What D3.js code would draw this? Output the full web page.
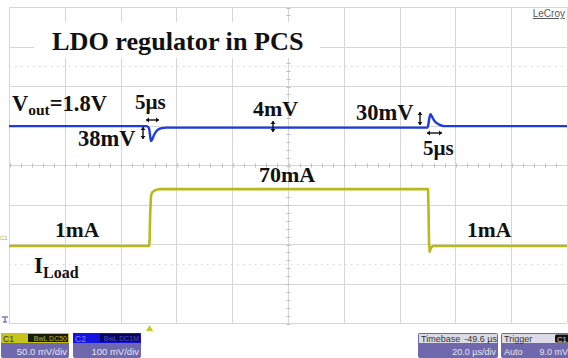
<!DOCTYPE html>
<html>
<head>
<meta charset="utf-8">
<script src="https://cdn.jsdelivr.net/npm/d3@7/dist/d3.min.js"></script>
<style>
  html, body { margin: 0; padding: 0; background: #fff; }
  svg { display: block; }
  .ann { font-family: "Liberation Serif", "Times New Roman", serif; font-weight: bold; fill: #111; }
  .ui { font-family: "Liberation Sans", "DejaVu Sans", Arial, sans-serif; }
</style>
</head>
<body>
<svg id="scope" width="568" height="358"></svg>
<script>
// Time axis (µs, trigger at 0) and screen layout: 10 x 8 divisions
const timeWindowUs = [-50.4, 149.6];
const divisionsX = 10;
const divisionsY = 8;

// C2: regulator output, deviation from 1.8 V in mV
const voutTimeUs = [-50.4, -1.0, -0.2, 0.2, 0.5, 0.9, 1.5, 2.3, 3.2, 4.5, 6.0, 99.6, 99.9, 100.3, 100.7, 101.2, 101.9, 102.8, 104.0, 105.5, 149.6];
const voutDevMv  = [0, 0, -6, -26, -38, -34, -24, -14, -8, -5, -4, -4, 4, 22, 30, 24, 15, 8, 3, 0, 0];

// C1: load current in mA
const loadTimeUs = [-50.4, -0.2, 0.0, 0.2, 0.5, 0.9, 1.6, 2.6, 4.0, 99.8, 100.0, 100.15, 100.4, 100.9, 101.6, 149.6];
const loadMa     = [1, 1, 8, 40, 62, 66, 68, 69.5, 70, 70, 40, 4, -6, -1, 1, 1];

// channel settings
const c1MaPerDiv = 48, c1ZeroDiv = -2.07;
const c2MvPerDiv = 100, c2ZeroDiv = 0.985;

// annotation labels
const titleText = "LDO regulator in PCS";
const dropLabels = ["38mV", "4mV", "30mV"];
const timeLabels = ["5µs", "5µs"];
const currentLabels = ["1mA", "70mA", "1mA"];

// status bar labels
const chanBoxes = [
  { name: "C1", tag: "BwL DC50", scale: "50.0 mV/div", head: "#c4c41c", tagFill: "#1a1a08", tagText: "#b8b840" },
  { name: "C2", tag: "BwL DC1M", scale: "100 mV/div", head: "#1414e0", tagFill: "#07075a", tagText: "#5050d0" }
];
const timebaseLabels = ["Timebase", "-49.6 µs", "20.0 µs/div"];
const triggerLabels = ["Trigger", "C1", "Auto", "9.0 mV"];

const svg = d3.select("#scope");
const plot = { left: 9, right: 567, top: 7, bottom: 323 };

const x = d3.scaleLinear().domain(timeWindowUs).range([plot.left, plot.right]);
const yDiv = d3.scaleLinear().domain([-divisionsY / 2, divisionsY / 2]).range([plot.bottom, plot.top]);
const yC1 = d3.scaleLinear().domain([0, c1MaPerDiv]).range([yDiv(c1ZeroDiv), yDiv(c1ZeroDiv + 1)]);
const yC2 = d3.scaleLinear().domain([0, c2MvPerDiv]).range([yDiv(c2ZeroDiv), yDiv(c2ZeroDiv + 1)]);
const divW = (plot.right - plot.left) / divisionsX;

// ---- graticule ----
const grid = svg.append("g").attr("stroke", "#d6d6d6").attr("stroke-width", 1).attr("fill", "none");
d3.range(divisionsX + 1).forEach(i => {
  const gx = Math.round(plot.left + i * divW) + 0.5;
  grid.append("line").attr("x1", gx).attr("x2", gx).attr("y1", plot.top).attr("y2", plot.bottom);
});
d3.range(-divisionsY / 2, divisionsY / 2 + 1).forEach(d => {
  const gy = Math.round(yDiv(d)) + 0.5;
  grid.append("line").attr("x1", plot.left).attr("x2", plot.right).attr("y1", gy).attr("y2", gy);
});
// dotted half-division lines
[2.5, -2.5].forEach(d => {
  const gy = Math.round(yDiv(d)) + 0.5;
  grid.append("line").attr("x1", plot.left).attr("x2", plot.right).attr("y1", gy).attr("y2", gy)
    .attr("stroke-dasharray", "1.5,4.5");
});
// minor ticks on the centre axes
const cx = Math.round(x((timeWindowUs[0] + timeWindowUs[1]) / 2)) + 0.5;
const cy = Math.round(yDiv(0)) + 0.5;
d3.range(-divisionsX / 2 * 5, divisionsX / 2 * 5 + 1).forEach(k => {
  const tx = Math.round(cx + k * divW / 5) + 0.5;
  grid.append("line").attr("x1", tx).attr("x2", tx).attr("y1", cy - 2).attr("y2", cy + 2).attr("stroke", "#bdbdbd");
});
d3.range(-divisionsY / 2 * 5, divisionsY / 2 * 5 + 1).forEach(k => {
  const ty = Math.round(cy + k * (yDiv(0) - yDiv(1)) / 5) + 0.5;
  grid.append("line").attr("x1", cx - 2).attr("x2", cx + 2).attr("y1", ty).attr("y2", ty).attr("stroke", "#bdbdbd");
});

// ---- traces ----
const c1Line = d3.line().x((d, i) => x(loadTimeUs[i])).y(d => yC1(d));
const c2Line = d3.line().x((d, i) => x(voutTimeUs[i])).y(d => yC2(d)).curve(d3.curveMonotoneX);

svg.append("path").datum(loadMa).attr("d", c1Line)
  .attr("fill", "none").attr("stroke", "#b9b91e").attr("stroke-width", 2.6).attr("stroke-linejoin", "round");
svg.append("path").datum(voutDevMv).attr("d", c2Line)
  .attr("fill", "none").attr("stroke", "#1e3ae2").attr("stroke-width", 2.4).attr("stroke-linejoin", "round");

// ---- annotations ----
svg.append("rect").attr("x", 34).attr("y", 22).attr("width", 286).attr("height", 36).attr("fill", "#fff");
svg.append("text").attr("class", "ann").attr("x", 52).attr("y", 50).attr("font-size", 26.2).text(titleText);

const vout = svg.append("text").attr("class", "ann").attr("x", 12).attr("y", 111).attr("font-size", 22.5);
vout.append("tspan").text("V");
vout.append("tspan").attr("font-size", 15.5).attr("dy", 4).text("out");
vout.append("tspan").attr("dy", -4).text("=1.8V");

svg.append("text").attr("class", "ann").attr("x", 135).attr("y", 109).attr("font-size", 21).text(timeLabels[0]);
svg.append("text").attr("class", "ann").attr("x", 78).attr("y", 146).attr("font-size", 22.5).text(dropLabels[0]);
svg.append("text").attr("class", "ann").attr("x", 253).attr("y", 116).attr("font-size", 22).text(dropLabels[1]);
svg.append("text").attr("class", "ann").attr("x", 356).attr("y", 120).attr("font-size", 22.5).text(dropLabels[2]);
svg.append("text").attr("class", "ann").attr("x", 423).attr("y", 155).attr("font-size", 21).text(timeLabels[1]);

svg.append("text").attr("class", "ann").attr("x", 55).attr("y", 237).attr("font-size", 21.5).text(currentLabels[0]);
svg.append("text").attr("class", "ann").attr("x", 259).attr("y", 182).attr("font-size", 22).text(currentLabels[1]);
svg.append("text").attr("class", "ann").attr("x", 467).attr("y", 237).attr("font-size", 21.5).text(currentLabels[2]);

const iload = svg.append("text").attr("class", "ann").attr("x", 34).attr("y", 273).attr("font-size", 23);
iload.append("tspan").text("I");
iload.append("tspan").attr("font-size", 16).attr("dy", 5).text("Load");

// small measurement arrows
const arrows = svg.append("g").attr("stroke", "#111").attr("stroke-width", 1.4).attr("fill", "#111");
function hArrow(x1, x2, yy) {
  arrows.append("line").attr("x1", x1).attr("x2", x2).attr("y1", yy).attr("y2", yy);
  arrows.append("path").attr("d", `M${x1},${yy}l3,-2.5v5z`).attr("stroke", "none");
  arrows.append("path").attr("d", `M${x2},${yy}l-3,-2.5v5z`).attr("stroke", "none");
}
function vArrow(xx, y1, y2) {
  arrows.append("line").attr("x1", xx).attr("x2", xx).attr("y1", y1).attr("y2", y2);
  arrows.append("path").attr("d", `M${xx},${y1}l-2.5,3h5z`).attr("stroke", "none");
  arrows.append("path").attr("d", `M${xx},${y2}l-2.5,-3h5z`).attr("stroke", "none");
}
hArrow(146, 159, 120);
vArrow(143, 127, 139);
vArrow(273, 121, 132);
vArrow(420, 112, 125);
hArrow(427, 442, 133);

// LeCroy mark
svg.append("text").attr("class", "ui").attr("x", 565).attr("y", 17).attr("text-anchor", "end")
  .attr("font-size", 10).attr("fill", "#555").attr("text-decoration", "underline").text("LeCroy");

// channel markers at the left edge
svg.append("text").attr("class", "ui").attr("x", 0).attr("y", Math.round(yC1(1)) - 6)
  .attr("font-size", 6).attr("fill", "#b0b020").text("C1");
svg.append("path").attr("d", "M2,317h6M5,317v5M3,322h4").attr("stroke", "#7c7cc0").attr("stroke-width", 1.4).attr("fill", "none");

// trigger position marker
const tx0 = x(0);
svg.append("path").attr("d", `M${tx0},${plot.bottom + 2}l-3.5,6h7z`).attr("fill", "#c8c820");

// ---- status bar ----
const bar = svg.append("g").attr("class", "ui");
const purple = "#7068ac";
chanBoxes.forEach((c, i) => {
  const bx = 1 + i * 72, bw = 68;
  const g = bar.append("g").attr("transform", `translate(${bx},333)`);
  g.append("rect").attr("width", bw).attr("height", 25).attr("rx", 2).attr("fill", purple);
  g.append("rect").attr("width", bw).attr("height", 10).attr("fill", c.head);
  g.append("rect").attr("x", 27).attr("y", 1).attr("width", bw - 28).attr("height", 8).attr("fill", c.tagFill);
  g.append("text").attr("x", 2).attr("y", 8.5).attr("font-size", 8.5).attr("fill", i === 0 ? "#333" : "#8888ff").text(c.name);
  g.append("text").attr("x", bw - 2).attr("y", 8.2).attr("text-anchor", "end").attr("font-size", 7).attr("fill", c.tagText).text(c.tag);
  g.append("text").attr("x", bw - 2).attr("y", 21.5).attr("text-anchor", "end").attr("font-size", 9.5).attr("fill", "#e4e4f2").text(c.scale);
});

const tb = bar.append("g").attr("transform", "translate(418,333)");
tb.append("rect").attr("width", 80).attr("height", 25).attr("rx", 2).attr("fill", purple);
tb.append("rect").attr("x", 1).attr("y", 1).attr("width", 78).attr("height", 9).attr("fill", "#dcdce6");
tb.append("text").attr("x", 3).attr("y", 9).attr("font-size", 9).attr("fill", "#333").text(timebaseLabels[0]);
tb.append("text").attr("x", 79).attr("y", 9).attr("text-anchor", "end").attr("font-size", 9).attr("fill", "#333").text(timebaseLabels[1]);
tb.append("text").attr("x", 78).attr("y", 21.5).attr("text-anchor", "end").attr("font-size", 9).attr("fill", "#e4e4f2").text(timebaseLabels[2]);

const tr = bar.append("g").attr("transform", "translate(501,333)");
tr.append("rect").attr("width", 70).attr("height", 25).attr("rx", 2).attr("fill", purple);
tr.append("rect").attr("x", 1).attr("y", 1).attr("width", 68).attr("height", 9).attr("fill", "#dcdce6");
tr.append("rect").attr("x", 54).attr("y", 1.5).attr("width", 14).attr("height", 8).attr("rx", 1.5).attr("fill", "#111");
tr.append("text").attr("x", 3).attr("y", 9).attr("font-size", 9).attr("fill", "#333").text(triggerLabels[0]);
tr.append("text").attr("x", 56).attr("y", 8.5).attr("font-size", 7.5).attr("fill", "#ddd").text(triggerLabels[1]);
tr.append("text").attr("x", 3).attr("y", 21.5).attr("font-size", 9).attr("fill", "#e4e4f2").text(triggerLabels[2]);
tr.append("text").attr("x", 67).attr("y", 21.5).attr("text-anchor", "end").attr("font-size", 9).attr("fill", "#e4e4f2").text(triggerLabels[3]);
</script>
</body>
</html>
